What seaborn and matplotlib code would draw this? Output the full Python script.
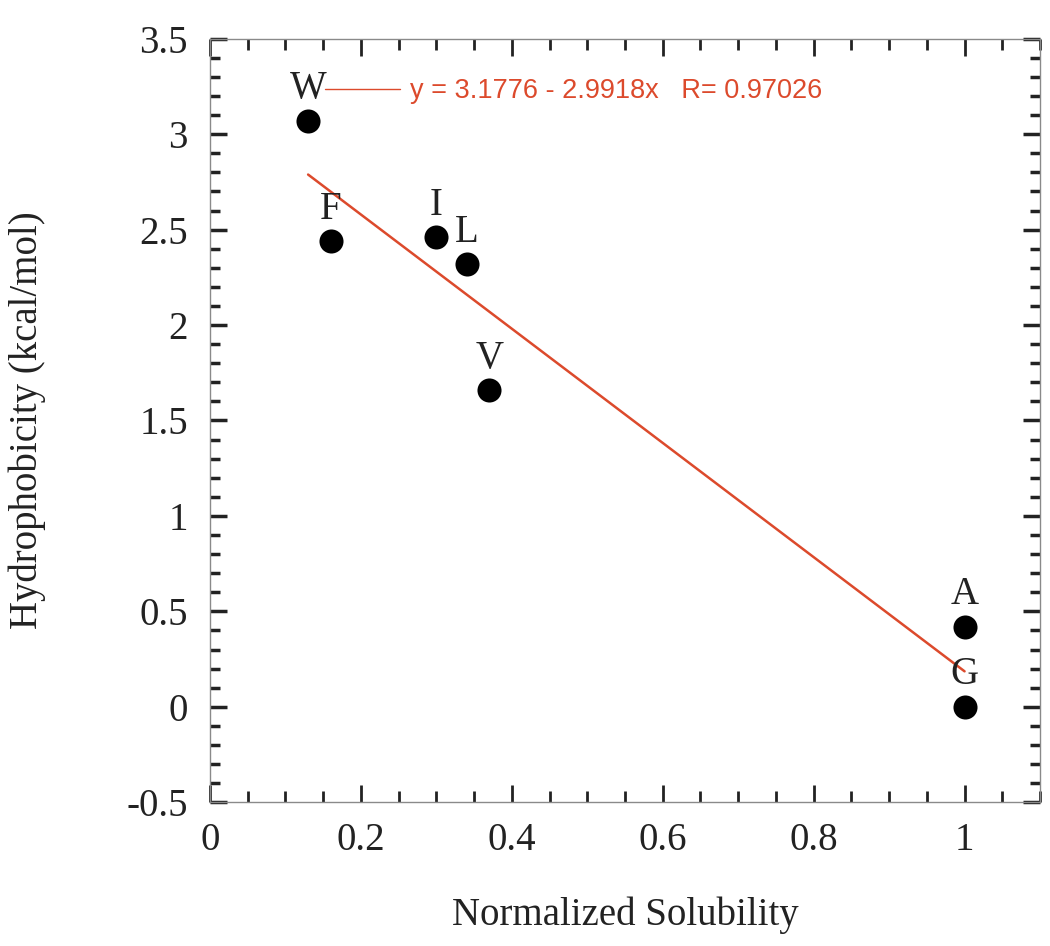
import numpy as np
import pandas as pd
import matplotlib
matplotlib.use("Agg")
import matplotlib.pyplot as plt
import seaborn as sns
from matplotlib.ticker import MultipleLocator

# ========== DATA ==========
residues = ["W", "F", "I", "L", "V", "A", "G"]
solubility = [0.13, 0.16, 0.30, 0.34, 0.37, 1.00, 1.00]
hydrophobicity = [3.07, 2.44, 2.46, 2.32, 1.66, 0.42, 0.00]
fit_label = "y = 3.1776 - 2.9918x   R= 0.97026"

x_ticks = [0, 0.2, 0.4, 0.6, 0.8, 1]
x_ticklabels = ["0", "0.2", "0.4", "0.6", "0.8", "1"]
y_ticks = [-0.5, 0, 0.5, 1, 1.5, 2, 2.5, 3, 3.5]
y_ticklabels = ["-0.5", "0", "0.5", "1", "1.5", "2", "2.5", "3", "3.5"]

df = pd.DataFrame({"res": residues, "sol": solubility, "hyd": hydrophobicity})

# ========== STYLE ==========
sns.set_style("ticks")
plt.rcParams["font.family"] = ["Liberation Serif", "DejaVu Serif"]

RED = "#dc4a2c"
SPINE = "#8a8a8a"
TICK = "#222222"
FS = 28

fig = plt.figure(figsize=(10.5, 9.46), dpi=100)
ax = fig.add_axes([0.2, 0.152, 0.7905, 0.807])

# regression line + points
sns.regplot(data=df, x="sol", y="hyd", ax=ax, ci=None, truncate=True,
            scatter=False, line_kws={"color": RED, "lw": 1.8})
fit_line = ax.get_lines()[0]
sns.scatterplot(data=df, x="sol", y="hyd", ax=ax, color="black", s=300,
                edgecolor="black", linewidth=0, zorder=3)

for r, xv, yv in zip(residues, solubility, hydrophobicity):
    ax.annotate(r, (xv, yv), xytext=(0, 23), textcoords="offset points",
                ha="center", va="center", fontsize=FS, color="#222222")

# ========== AXES ==========
ax.set_xlim(0, 1.1)
ax.set_ylim(-0.5, 3.5)
ax.set_xticks(x_ticks)
ax.set_xticklabels(x_ticklabels)
ax.set_yticks(y_ticks)
ax.set_yticklabels(y_ticklabels)
ax.xaxis.set_minor_locator(MultipleLocator(0.05))
ax.yaxis.set_minor_locator(MultipleLocator(0.1))

ax.tick_params(which="both", direction="in", top=True, right=True,
               color=TICK, labelsize=FS, labelcolor="#222222")
ax.tick_params(axis="x", which="major", length=12, width=2, pad=14)
ax.tick_params(axis="x", which="minor", length=8, width=2)
ax.tick_params(axis="y", which="major", length=12, width=2.5, pad=16)
ax.tick_params(axis="y", which="minor", length=7, width=2.5)

for sp in ax.spines.values():
    sp.set_color(SPINE)
    sp.set_linewidth(1.0)

ax.set_xlabel("Normalized Solubility", fontsize=FS, color="#222222", labelpad=27)
ax.set_ylabel("Hydrophobicity (kcal/mol)", fontsize=FS, color="#222222", labelpad=58)

leg = ax.legend([fit_line], [fit_label], loc="center left",
                bbox_to_anchor=(0.138, 0.931), frameon=False,
                borderpad=0, borderaxespad=0, handlelength=2.8, handletextpad=0.35,
                prop={"family": "Liberation Sans", "size": 19.5}, labelcolor=RED)
for h in leg.legend_handles:
    h.set_linewidth(1.0)

fig.savefig("out.png", dpi=100)
